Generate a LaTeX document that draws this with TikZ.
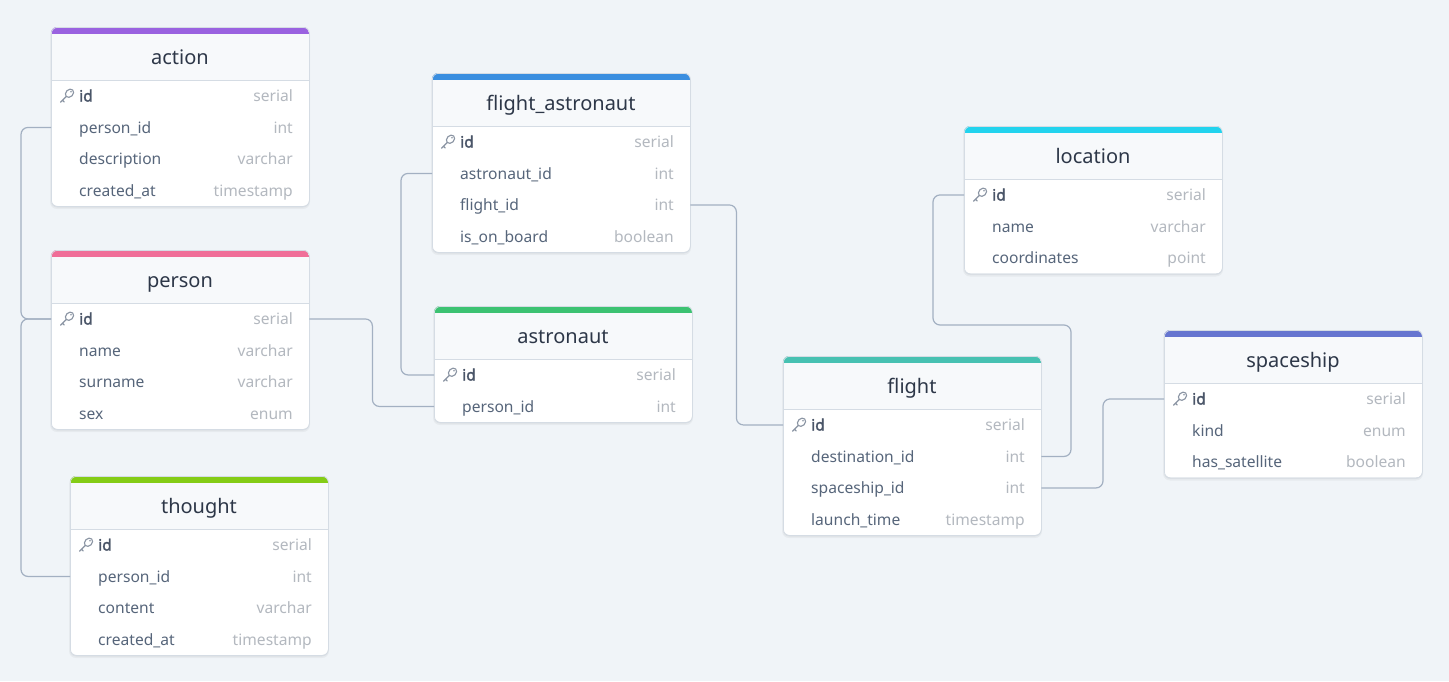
\documentclass[tikz,border=0pt]{standalone}
\usepackage{fontspec}
\setmainfont{Noto Sans}[AutoFakeBold=2]
\definecolor{bgcol}{HTML}{F0F4F8}
\definecolor{headfill}{HTML}{F7F9FB}
\definecolor{bordercol}{HTML}{D5DCE4}
\definecolor{titlecol}{HTML}{2D3748}
\definecolor{fieldcol}{HTML}{56657A}
\definecolor{idcol}{HTML}{4A5568}
\definecolor{typecol}{HTML}{B3B8BF}
\definecolor{keycol}{HTML}{8A94A3}
\definecolor{conncol}{HTML}{A3B0C2}
\definecolor{cAction}{HTML}{9A62E0}
\definecolor{cPerson}{HTML}{F06E98}
\definecolor{cThought}{HTML}{84CC16}
\definecolor{cFA}{HTML}{3A8EE0}
\definecolor{cAstro}{HTML}{3CC272}
\definecolor{cLoc}{HTML}{22D3EE}
\definecolor{cFlight}{HTML}{47C1B2}
\definecolor{cShip}{HTML}{6675D0}
\tikzset{
  conn/.style={draw=conncol, line width=1.2pt, rounded corners=7pt},
  tableframe/.style={draw=bordercol, line width=0.8pt, rounded corners=6pt, inner sep=0pt, anchor=north west, minimum width=258pt},
  titletext/.style={anchor=base, text=titlecol, font=\fontsize{20}{24}\selectfont, inner sep=0pt},
  fieldtext/.style={anchor=base west, text=fieldcol, font=\fontsize{15.6}{18}\selectfont, inner sep=0pt},
  keytext/.style={anchor=base west, text=idcol, font=\fontsize{15.6}{18}\selectfont\bfseries, inner sep=0pt},
  typetext/.style={anchor=base east, text=typecol, font=\fontsize{15.6}{18}\selectfont, inner sep=0pt},
  rowbox/.style={anchor=north west, minimum width=258pt, minimum height=31.5pt, inner sep=0pt, draw=none},
  keyicon/.style={draw=keycol, line width=1.1pt, line cap=round, line join=round},
}
% #1 id, #2 left, #3 top, #4 rows, #5 colour, #6 title
\newcommand\etable[6]{%
  \pgfmathsetmacro\tbot{#3+53+31.5*#4}%
  \pgfmathsetmacro\tright{#2+258}%
  \pgfmathsetmacro\theight{53+31.5*#4}%
  \fill[black, opacity=0.04, rounded corners=7pt] ({#2-1},{#3+1}) rectangle ({\tright+1},{\tbot+3});
  \fill[black, opacity=0.04, rounded corners=6pt] (#2,{#3+1}) rectangle (\tright,{\tbot+1.5});
  \fill[white, rounded corners=6pt] (#2,#3) rectangle (\tright,\tbot);
  \begin{scope}
    \clip[rounded corners=6pt] (#2,#3) rectangle (\tright,\tbot);
    \fill[#5] (#2,#3) rectangle (\tright,{#3+7});
    \fill[headfill] (#2,{#3+7}) rectangle (\tright,{#3+53});
  \end{scope}
  \node[tableframe, minimum height=\theight pt] (#1) at (#2,#3) {};
  \draw[bordercol, line width=0.8pt] (#2,{#3+53}) -- (\tright,{#3+53});
  \node[titletext] (#1-title) at ({#2+129},{#3+37}) {#6};
}
% #1 id, #2 left, #3 top, #4 index, #5 field, #6 type
\newcommand\erow[6]{%
  \pgfmathsetmacro\ry{#3+53+31.5*(#4-1)}%
  \node[rowbox] (#1-r#4) at (#2,\ry) {};
  \node[fieldtext] (#1-f#4) at ({#2+28},{\ry+21.5}) {#5};
  \node[typetext] (#1-t#4) at ({#2+242},{\ry+21.5}) {#6};
}
\newcommand\ekeyrow[4]{%
  \pgfmathsetmacro\ry{#3+53}%
  \pgfmathsetmacro\rc{#3+53+15.75}%
  \node[rowbox] (#1-r1) at (#2,\ry) {};
  \draw[keyicon, rotate around={45:({#2+18.5},{\rc-2.5})}] ({#2+18.5},{\rc-2.5}) ellipse (4.6 and 3.6);
  \draw[keyicon] ({#2+15.3},{\rc+0.7}) -- ({#2+9.5},{\rc+6.5}) ({#2+11.5},{\rc+4.5}) -- ({#2+13.3},{\rc+6.3});
  \fill[keycol] ({#2+20},{\rc-4}) circle (0.9);
  \node[keytext] (#1-f1) at ({#2+28},{\ry+21.5}) {#4};
  \node[typetext] (#1-t1) at ({#2+242},{\ry+21.5}) {serial};
}
\begin{document}
\begin{tikzpicture}[x=1pt, y=-1pt]
\fill[bgcol] (0,0) rectangle (1449,681);
\useasboundingbox (0,0) rectangle (1449,681);

% action
\etable{action}{51}{27}{4}{cAction}{action}
\ekeyrow{action}{51}{27}{id}
\erow{action}{51}{27}{2}{person\_id}{int}
\erow{action}{51}{27}{3}{description}{varchar}
\erow{action}{51}{27}{4}{created\_at}{timestamp}

% person
\etable{person}{51}{250}{4}{cPerson}{person}
\ekeyrow{person}{51}{250}{id}
\erow{person}{51}{250}{2}{name}{varchar}
\erow{person}{51}{250}{3}{surname}{varchar}
\erow{person}{51}{250}{4}{sex}{enum}

% thought
\etable{thought}{70}{476}{4}{cThought}{thought}
\ekeyrow{thought}{70}{476}{id}
\erow{thought}{70}{476}{2}{person\_id}{int}
\erow{thought}{70}{476}{3}{content}{varchar}
\erow{thought}{70}{476}{4}{created\_at}{timestamp}

% flight_astronaut
\etable{fa}{432}{73}{4}{cFA}{flight\_astronaut}
\ekeyrow{fa}{432}{73}{id}
\erow{fa}{432}{73}{2}{astronaut\_id}{int}
\erow{fa}{432}{73}{3}{flight\_id}{int}
\erow{fa}{432}{73}{4}{is\_on\_board}{boolean}

% astronaut
\etable{astro}{434}{306}{2}{cAstro}{astronaut}
\ekeyrow{astro}{434}{306}{id}
\erow{astro}{434}{306}{2}{person\_id}{int}

% location
\etable{loc}{964}{126}{3}{cLoc}{location}
\ekeyrow{loc}{964}{126}{id}
\erow{loc}{964}{126}{2}{name}{varchar}
\erow{loc}{964}{126}{3}{coordinates}{point}

% flight
\etable{flight}{783}{356}{4}{cFlight}{flight}
\ekeyrow{flight}{783}{356}{id}
\erow{flight}{783}{356}{2}{destination\_id}{int}
\erow{flight}{783}{356}{3}{spaceship\_id}{int}
\erow{flight}{783}{356}{4}{launch\_time}{timestamp}

% spaceship
\etable{ship}{1164}{330}{3}{cShip}{spaceship}
\ekeyrow{ship}{1164}{330}{id}
\erow{ship}{1164}{330}{2}{kind}{enum}
\erow{ship}{1164}{330}{3}{has\_satellite}{boolean}

% connectors
\draw[conn] (action-r2.west) -- ++(-30,0) |- (person-r1.west);
\draw[conn] (person-r1.west) -- ++(-30,0) |- (thought-r2.west);
\draw[conn] (person-r1.east) -- ++(63,0) |- (astro-r2.west);
\draw[conn] (fa-r2.west) -- ++(-31,0) |- (astro-r1.west);
\draw[conn] (fa-r3.east) -- ++(46,0) |- (flight-r1.west);
\coordinate (locbend) at (1071,325);
\draw[conn] (loc-r1.west) -- ++(-31,0) |- (locbend) |- (flight-r2.east);
\draw[conn] (ship-r1.west) -- ++(-61,0) |- (flight-r3.east);
\end{tikzpicture}
\end{document}
